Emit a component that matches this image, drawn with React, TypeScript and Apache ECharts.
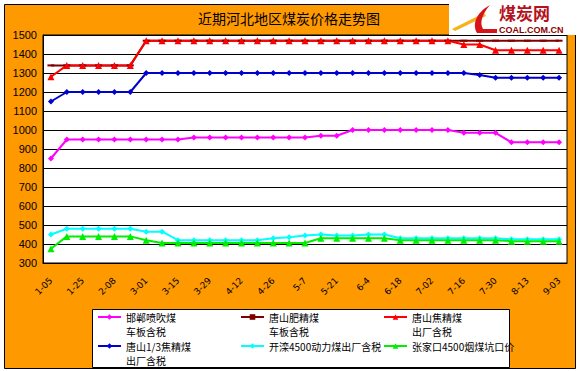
import React, { useEffect, useRef } from "react";
import * as echarts from "echarts";

const categories = [
  "1-05", "1-15", "1-25", "2-01", "2-08", "2-22", "3-01", "3-08", "3-15", "3-22", "3-29",
  "4-05", "4-12", "4-19", "4-26", "5-01", "5-7", "5-14", "5-21", "5-28", "6-4", "6-11",
  "6-18", "6-25", "7-02", "7-09", "7-16", "7-23", "7-30", "8-06", "8-13", "8-27", "9-03",
];

const yTicks = [300, 400, 500, 600, 700, 800, 900, 1000, 1100, 1200, 1300, 1400, 1500];

const seriesNames = [
  "邯郸喷吹煤\n车板含税",
  "唐山肥精煤\n车板含税",
  "唐山焦精煤\n出厂含税",
  "唐山1/3焦精煤\n出厂含税",
  "开滦4500动力煤出厂含税",
  "张家口4500烟煤坑口价",
];

const handanPenchui = [850, 950, 950, 950, 950, 950, 950, 950, 950, 960, 960, 960, 960, 960, 960, 960, 960, 970, 970, 1000, 1000, 1000, 1000, 1000, 1000, 1000, 985, 985, 985, 935, 935, 935, 935];
const tangshanFeijing = [1340, 1340, 1340, 1340, 1340, 1340, 1470, 1470, 1470, 1470, 1470, 1470, 1470, 1470, 1470, 1470, 1470, 1470, 1470, 1470, 1470, 1470, 1470, 1470, 1470, 1470, 1470, 1470, 1470, 1470, 1470, 1470, 1470];
const tangshanJiaojing = [1280, 1340, 1340, 1340, 1340, 1340, 1470, 1470, 1470, 1470, 1470, 1470, 1470, 1470, 1470, 1470, 1470, 1470, 1470, 1470, 1470, 1470, 1470, 1470, 1470, 1470, 1450, 1450, 1420, 1420, 1420, 1420, 1420];
const tangshan13Jiao = [1150, 1200, 1200, 1200, 1200, 1200, 1300, 1300, 1300, 1300, 1300, 1300, 1300, 1300, 1300, 1300, 1300, 1300, 1300, 1300, 1300, 1300, 1300, 1300, 1300, 1300, 1300, 1290, 1275, 1275, 1275, 1275, 1275];
const kailuan4500 = [450, 480, 480, 480, 480, 480, 465, 465, 420, 420, 420, 420, 420, 420, 430, 435, 445, 450, 445, 445, 450, 450, 430, 430, 430, 430, 430, 430, 430, 425, 425, 425, 425];
const zhangjiakou4500 = [375, 440, 440, 440, 440, 440, 420, 405, 405, 405, 405, 405, 405, 405, 405, 405, 405, 430, 430, 430, 430, 430, 420, 420, 420, 420, 420, 420, 420, 415, 415, 415, 415];

const seriesData = [handanPenchui, tangshanFeijing, tangshanJiaojing, tangshan13Jiao, kailuan4500, zhangjiakou4500];
const seriesColors = ["#FF00FF", "#800000", "#FF0000", "#0000D0", "#00FFFF", "#00EE00"];
const seriesSymbols = ["diamond", "rect", "triangle", "diamond", "diamond", "triangle"];

const legendCols = [97, 240, 383];
const legendRows = [317, 346];

const CJK = "'Noto Sans CJK SC', 'Liberation Sans', sans-serif";

export default function App() {
  const ref = useRef<HTMLDivElement>(null);

  useEffect(() => {
    if (!ref.current) return;
    const chart = echarts.init(ref.current, undefined, { renderer: "svg" });

    echarts.graphic.registerShape(
      "coalSwoosh",
      echarts.graphic.extendPath(
        "M 490 5 C 479 11 471 22 477 33 L 497 33 L 497 29 L 483 29 C 479 22 483 13 490 5 Z",
        {}
      )
    );

    const series = seriesNames.map((name, i) => ({
      name,
      type: "line",
      data: seriesData[i],
      symbol: seriesSymbols[i],
      symbolSize: i === 1 ? [7, 2] : seriesSymbols[i] === "triangle" ? 7 : 6,
      showSymbol: true,
      lineStyle: { color: seriesColors[i], width: 2 },
      itemStyle: { color: seriesColors[i] },
      emphasis: { disabled: true },
    }));

    const legends = seriesNames.map((name, i) => {
      const twoLine = name.indexOf("\n") >= 0;
      const iconCenter = legendRows[Math.floor(i / 3)];
      return {
        data: [name],
        left: legendCols[i % 3],
        top: iconCenter - (twoLine ? 21 : 7),
        orient: "horizontal",
        padding: 0,
        itemWidth: 23,
        itemHeight: 7,
        itemGap: 3,
        selectedMode: false,
        formatter: (n: string) => (twoLine ? " \n" + n : n),
        textStyle: {
          fontSize: 10,
          lineHeight: 14,
          color: "#000",
          fontFamily: CJK,
        },
      };
    });

    chart.setOption({
      animation: false,
      backgroundColor: "transparent",
      title: {
        text: "近期河北地区煤炭价格走势图",
        left: 284,
        textAlign: "center",
        top: 6,
        textStyle: { fontSize: 14, fontWeight: "normal", color: "#000", fontFamily: CJK },
      },
      legend: legends,
      grid: {
        left: 43,
        right: 14,
        top: 35,
        bottom: 108,
        show: true,
        backgroundColor: "#FFFFFF",
        borderColor: "#000",
        borderWidth: 1,
      },
      xAxis: {
        type: "category",
        data: categories,
        boundaryGap: true,
        axisLine: { lineStyle: { color: "#000", width: 1 } },
        axisTick: { inside: true, length: 3, interval: 0, lineStyle: { color: "#000" } },
        axisLabel: {
          interval: 1,
          rotate: 45,
          margin: 16,
          fontSize: 9,
          color: "#000",
          fontFamily: "'DejaVu Sans', sans-serif",
        },
        splitLine: { show: false },
      },
      yAxis: {
        type: "value",
        min: yTicks[0],
        max: yTicks[yTicks.length - 1],
        interval: 100,
        axisLine: { show: true, lineStyle: { color: "#000", width: 1 } },
        axisTick: { show: false },
        axisLabel: {
          fontSize: 11,
          color: "#000",
          margin: 6,
          fontFamily: "'Liberation Sans', sans-serif",
          formatter: (v: number) => String(v),
        },
        splitLine: { lineStyle: { color: "#000", width: 1 } },
      },
      graphic: [
        {
          type: "rect",
          z: -10,
          shape: { x: 4.5, y: 4.5, width: 571, height: 364 },
          style: { fill: "#FF9900", stroke: "#000", lineWidth: 1 },
        },
        {
          type: "rect",
          z: -5,
          shape: { x: 92.5, y: 309.5, width: 417, height: 58 },
          style: { fill: "#FFFFFF", stroke: "#000", lineWidth: 1 },
        },
        {
          type: "rect",
          z: 100,
          shape: { x: 449, y: 0, width: 132, height: 35 },
          style: { fill: "#FFFFFF" },
        },
        {
          type: "polygon",
          z: 101,
          shape: { points: [[452, 29], [484, 13], [486, 16], [455, 31]] },
          style: { fill: "#F6B21A" },
        },
        {
          type: "coalSwoosh",
          z: 102,
          x: 0,
          y: 0,
          scaleX: 1,
          scaleY: 1,
          style: { fill: "#D7141A" },
        },
        {
          type: "text",
          z: 102,
          x: 499,
          y: 4,
          style: {
            text: "煤炭网",
            fontSize: 17,
            lineHeight: 17,
            fontWeight: "bold",
            fill: "#B3121B",
            fontFamily: CJK,
            verticalAlign: "top",
          },
        },
        {
          type: "text",
          z: 102,
          x: 499,
          y: 25,
          style: {
            text: "COAL.COM.CN",
            fontSize: 9,
            lineHeight: 9,
            fontWeight: "bold",
            fill: "#8B0000",
            fontFamily: "'Liberation Sans', sans-serif",
            verticalAlign: "top",
          },
        },
      ],
      series,
    });

    return () => {
      chart.dispose();
    };
  }, []);

  return (
    <div
      ref={ref}
      style={{ position: "absolute", left: 0, top: 0, width: 581, height: 371 }}
    />
  );
}
